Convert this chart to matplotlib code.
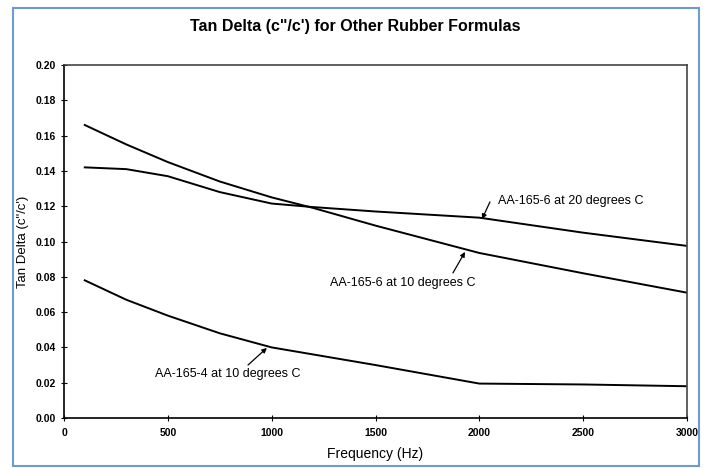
import matplotlib
matplotlib.use("Agg")
import matplotlib.pyplot as plt
from matplotlib.patches import Rectangle

plt.rcParams['font.family'] = ['Liberation Sans', 'DejaVu Sans']

freq = [100, 300, 500, 750, 1000, 1200, 1500, 2000, 2500, 3000]
aa6_10c = [0.166, 0.155, 0.145, 0.134, 0.125, 0.119, 0.109, 0.0935, 0.082, 0.071]
aa6_20c = [0.142, 0.141, 0.137, 0.128, 0.1215, 0.1195, 0.117, 0.1135, 0.105, 0.0975]
aa4_10c = [0.078, 0.067, 0.058, 0.048, 0.040, 0.036, 0.030, 0.0195, 0.019, 0.018]

x_ticks = [0, 500, 1000, 1500, 2000, 2500, 3000]
y_ticks = [0.00, 0.02, 0.04, 0.06, 0.08, 0.10, 0.12, 0.14, 0.16, 0.18, 0.20]

W, H = 705, 468
fig = plt.figure(figsize=(W / 100, H / 100), dpi=100)
ax = fig.add_axes([64 / W, (H - 418) / H, (687 - 64) / W, (418 - 65) / H])

for ys in (aa6_10c, aa6_20c, aa4_10c):
    ax.plot(freq, ys, color='black', lw=1.4)

ax.set_xlim(0, 3000)
ax.set_ylim(0, 0.20)
ax.set_xticks(x_ticks)
ax.set_yticks(y_ticks)
ax.set_xticklabels([str(t) for t in x_ticks])
ax.set_yticklabels([f"{t:.2f}" for t in y_ticks])
ax.tick_params(axis='both', direction='inout', length=5, width=0.8, labelsize=7.5)
ax.tick_params(axis='y', pad=3)
ax.tick_params(axis='x', pad=5)
for lbl in ax.get_xticklabels() + ax.get_yticklabels():
    lbl.set_fontweight('bold')
for s in ax.spines.values():
    s.set_linewidth(1.2)
    s.set_color('black')
ax.spines['top'].set_color('#444444')
ax.spines['right'].set_color('#444444')

fig.text(375 / W, 1 - 454 / H, 'Frequency (Hz)', fontsize=10, ha='center', va='center')
fig.text(23 / W, 1 - 242 / H, "Tan Delta (c\"/c')", fontsize=9.5, ha='center', va='center',
         rotation=90)
fig.text(355 / W, 1 - 27 / H, "Tan Delta (c\"/c') for Other Rubber Formulas",
         ha='center', va='center', fontsize=11.5, fontweight='bold')

arrow = dict(arrowstyle='-|>', color='black', lw=0.9, mutation_scale=7, shrinkA=0, shrinkB=0)

ax.text(2090, 0.123, 'AA-165-6 at 20 degrees C', fontsize=9, va='center', ha='left')
ax.annotate('', xy=(2013, 0.1127), xytext=(2051, 0.1224), arrowprops=arrow)

ax.text(1281, 0.0765, 'AA-165-6 at 10 degrees C', fontsize=9, va='center', ha='left')
ax.annotate('', xy=(1931, 0.0941), xytext=(1873, 0.0822), arrowprops=arrow)

ax.text(438, 0.0249, 'AA-165-4 at 10 degrees C', fontsize=9, va='center', ha='left')
ax.annotate('', xy=(977, 0.0397), xytext=(886, 0.030), arrowprops=arrow)

fig.patches.append(Rectangle((13 / W, (H - 466) / H), (699 - 13) / W, (466 - 8) / H,
                             transform=fig.transFigure, fill=False,
                             edgecolor='#6d9bd6', lw=1.5))

fig.savefig('out.png', dpi=100)
